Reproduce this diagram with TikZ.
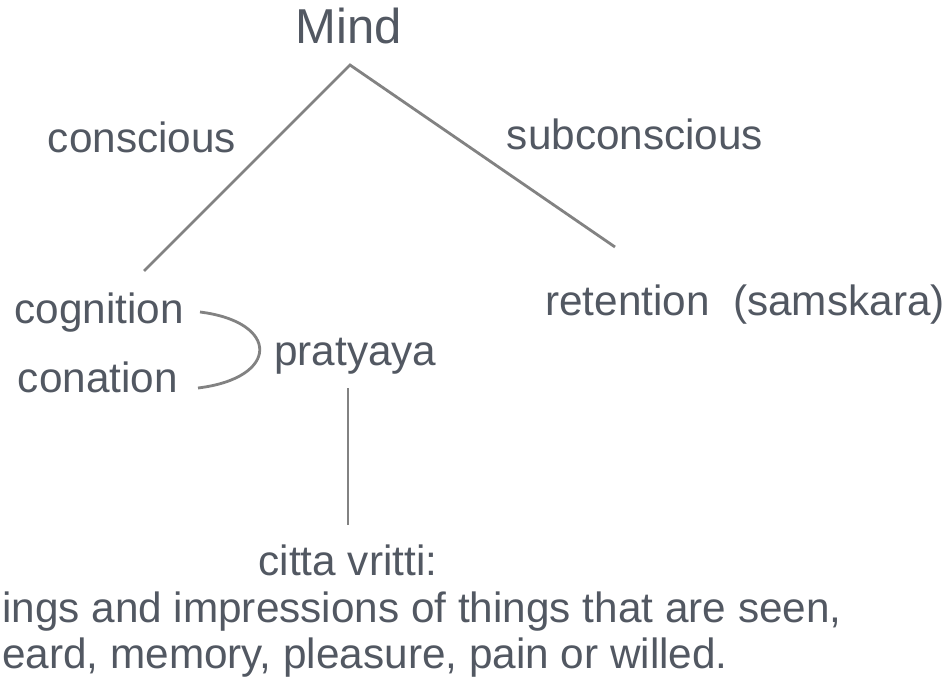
\documentclass[tikz,border=0pt]{standalone}
\usepackage{fontspec}
\setmainfont{Liberation Sans}
\definecolor{txt}{RGB}{82,88,98}
\definecolor{ln}{RGB}{130,130,130}
\begin{document}
\begin{tikzpicture}[x=1pt,y=-1pt,
  lbl/.style={inner sep=0pt,text=txt,font=\fontsize{42.3}{50}\selectfont},
  big/.style={inner sep=0pt,text=txt,font=\fontsize{49}{58}\selectfont},
  conn/.style={draw=ln,line width=2.8pt}]
\useasboundingbox[fill=white] (0,0) rectangle (952,687);
\node[big,anchor=base] (mind) at (349,44) {Mind};
\node[lbl,anchor=base] (consc) at (142,153) {conscious};
\node[lbl,anchor=base] (subc) at (635,150) {subconscious};
\node[lbl,anchor=base east] (cog) at (184,323) {cognition};
\node[lbl,anchor=base east] (con) at (178,392) {conation};
\node[lbl,anchor=base west] (prat) at (274,365) {pratyaya};
\node[lbl,anchor=base east] (ret) at (945,315) {retention\ \ (samskara)};
\node[lbl,anchor=base] (citta) at (348,575) {citta vritti:};
\node[lbl,anchor=base west] (l2) at (2,622) {ings and impressions of things that are seen,};
\node[lbl,anchor=base west] (l3) at (2,668) {eard, memory, pleasure, pain or willed.};
\coordinate (apex) at (350,65);
\coordinate (lend) at (144,271);
\coordinate (rend) at (615,247);
\coordinate (cs) at (200,312);
\coordinate (ce) at (198,388);
\coordinate (vtop) at (348,388);
\coordinate (vbot) at (348,525);
\draw[conn] (lend) -- (apex) -- (rend);
\draw[conn] (cs) .. controls (280,322) and (280,378) .. (ce);
\draw[conn] (vtop) -- (vbot);
\end{tikzpicture}
\end{document}
